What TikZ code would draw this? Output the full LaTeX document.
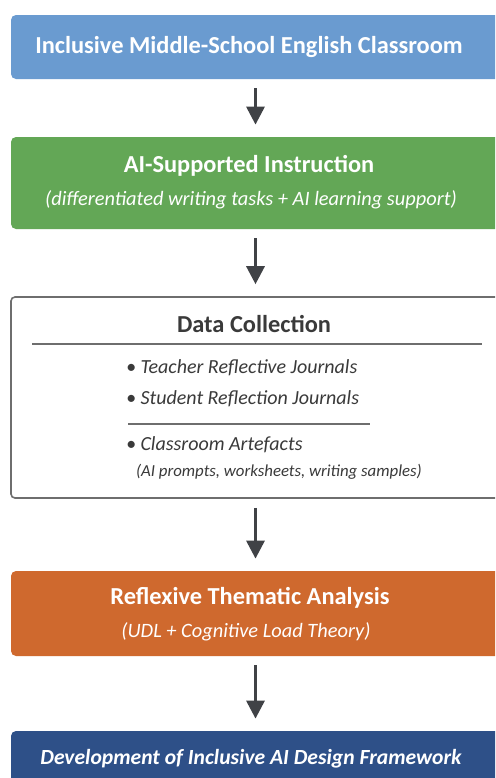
\documentclass[tikz,border=0pt]{standalone}
\usepackage{fontspec}
\setmainfont{Carlito}
\usetikzlibrary{arrows.meta}

\definecolor{classblue}{RGB}{106,155,208}
\definecolor{aigreen}{RGB}{99,167,86}
\definecolor{rtaorange}{RGB}{207,105,46}
\definecolor{frameblue}{RGB}{46,80,136}
\definecolor{arrowgray}{RGB}{64,66,70}
\definecolor{inkgray}{RGB}{58,58,58}
\definecolor{rulegray}{RGB}{110,110,110}

\tikzset{
  stage/.style={rounded corners=2.5pt, minimum width=244.5pt, inner sep=0pt},
  title/.style={text=white, font=\fontsize{12.2}{14}\selectfont\bfseries},
  subtitle/.style={text=white, font=\fontsize{10.2}{12}\selectfont\itshape},
  item/.style={anchor=west, text=inkgray, font=\fontsize{10}{12}\selectfont\itshape},
  flow/.style={line width=1.6pt, color=arrowgray, shorten <=4.5pt, shorten >=6pt,
    -{Triangle[width=9pt,length=9pt]}},
}

\begin{document}
\begin{tikzpicture}[x=0.5pt,y=-0.5pt]
\useasboundingbox (0,0) rectangle (495,778);
\clip (0,0) rectangle (495,778);
\fill[white] (0,0) rectangle (495,778);

% boxes
\node[stage, fill=classblue, minimum height=32pt] (classroom) at (255.5,47) {};
\node[stage, fill=aigreen, minimum height=46pt] (instruction) at (255.5,183) {};
\node[stage, draw=rulegray, line width=0.8pt, fill=white, rounded corners=2pt,
  minimum height=100.5pt] (collection) at (255.5,397.5) {};
\node[stage, fill=rtaorange, minimum height=42.5pt] (analysis) at (255.5,613.5) {};
\node[stage, fill=frameblue, minimum height=40pt] (framework) at (255.5,771) {};

% texts
\node[title] (classroomtxt) at (249,47) {Inclusive Middle-School English Classroom};
\node[title] (instrtxt) at (249,166) {AI-Supported Instruction};
\node[subtitle] (instrsub) at (251,200) {(differentiated writing tasks + AI learning support)};
\node[title, text=inkgray] (colltxt) at (254,324) {Data Collection};
\node[item] (teacher) at (119,368) {• Teacher Reflective Journals};
\node[item] (student) at (119,399) {• Student Reflection Journals};
\node[item] (artefacts) at (119,445) {• Classroom Artefacts};
\node[item, font=\fontsize{8.4}{10}\selectfont\itshape] (samples) at (129,472)
  {(AI prompts, worksheets, writing samples)};
\node[title] (analysistxt) at (250,598) {Reflexive Thematic Analysis};
\node[subtitle] (analysissub) at (246,632) {(UDL + Cognitive Load Theory)};
\node[title, font=\fontsize{10.8}{13}\selectfont\bfseries\itshape] (frametxt) at (251,759)
  {Development of Inclusive AI Design Framework};

% rules inside the data box
\draw[line width=0.6pt, color=rulegray](32,344) -- (482,344);
\draw[line width=0.6pt, color=rulegray](128,424) -- (370,424);

% arrows
\draw[flow] (classroom.south) -- (instruction.north);
\draw[flow] (instruction.south) -- (collection.north);
\draw[flow] (collection.south) -- (analysis.north);
\draw[flow] (analysis.south) -- (framework.north);
\end{tikzpicture}
\end{document}
